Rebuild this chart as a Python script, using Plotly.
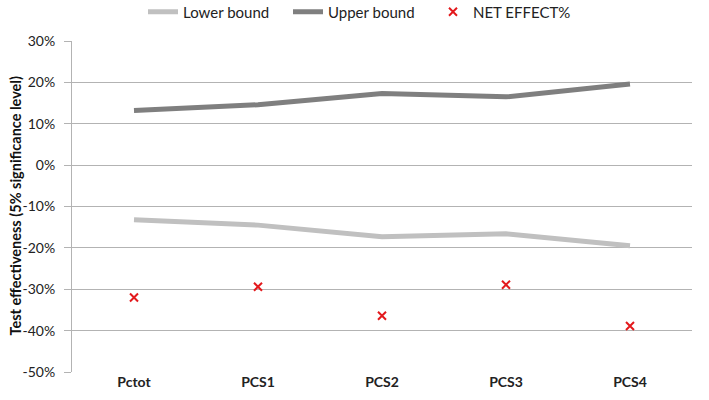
import plotly.graph_objects as go

categories = ["Pctot", "PCS1", "PCS2", "PCS3", "PCS4"]
lower_bound = [-0.132, -0.145, -0.173, -0.166, -0.195]
upper_bound = [0.132, 0.146, 0.173, 0.165, 0.196]
net_effect = [-0.320, -0.294, -0.364, -0.289, -0.389]
y_ticks = [0.3, 0.2, 0.1, 0.0, -0.1, -0.2, -0.3, -0.4, -0.5]
y_tick_labels = ["30%", "20%", "10%", "0%", "-10%", "-20%", "-30%", "-40%", "-50%"]
y_title = "Test effectiveness (5% significance level)"

FONT = "Lato, 'Open Sans', sans-serif"
NARROW = "'Liberation Sans Narrow', Lato, sans-serif"

fig = go.Figure()
fig.add_trace(go.Scatter(x=categories, y=lower_bound, mode="lines", name="Lower bound",
                         line=dict(color="#c0c0c0", width=5)))
fig.add_trace(go.Scatter(x=categories, y=upper_bound, mode="lines", name="Upper bound",
                         line=dict(color="#7f7f7f", width=5)))
fig.add_trace(go.Scatter(x=categories, y=net_effect, mode="markers", name="NET EFFECT%",
                         marker=dict(symbol="x-thin-open", size=8, color="#e3191c",
                                     line=dict(width=2, color="#e3191c"))))

fig.update_layout(
    width=709, height=400,
    margin=dict(l=72, r=17, t=41, b=28, autoexpand=False),
    paper_bgcolor="white", plot_bgcolor="white",
    font=dict(family=FONT, size=14, color="#222"),
    showlegend=True,
    legend=dict(orientation="h", x=(143 - 72) / 620, xanchor="left", y=1.0 + 29 / 331,
                yanchor="middle",
                font=dict(size=15, color="#222", family=NARROW),
                entrywidth=100, entrywidthmode="pixels",
                traceorder="normal", tracegroupgap=0),
    xaxis=dict(showgrid=False, showline=False, ticks="",
               tickfont=dict(size=14, color="#222", family=FONT, weight="bold"),
               range=[-0.5, 4.5]),
    yaxis=dict(range=[-0.5, 0.3], tickvals=y_ticks, ticktext=y_tick_labels,
               showgrid=True, gridcolor="#b3b3b3", gridwidth=1,
               zeroline=False, showline=True, linecolor="#b3b3b3",
               ticks="outside", ticklen=7, tickcolor="#b3b3b3",
               ticklabelstandoff=6,
               tickfont=dict(size=14, color="#222")),
    annotations=[dict(text="<b>" + y_title + "</b>", xref="paper", yref="paper",
                      x=(15 - 72) / 620, y=0.5, xanchor="center", yanchor="middle",
                      textangle=-90, showarrow=False,
                      font=dict(size=14.5, color="#111", family=FONT))],
)
fig.write_html("out.html", config={"displayModeBar": False},
               post_script="document.body.style.margin='0';")
